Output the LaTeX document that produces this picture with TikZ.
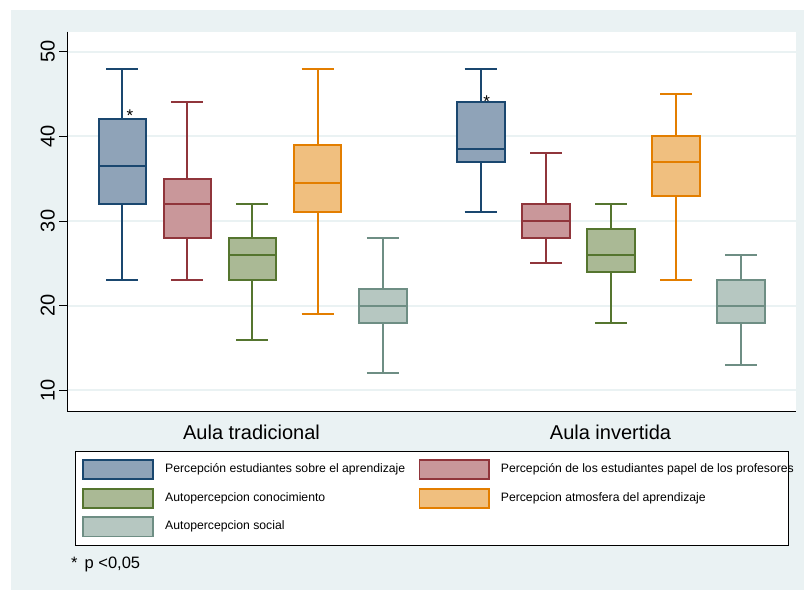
\documentclass[tikz,border=0pt]{standalone}
\usepackage{fontspec}
\setmainfont{Liberation Sans}
\definecolor{bgc}{HTML}{EAF2F3}
\definecolor{c1}{HTML}{1A476F}\definecolor{c1f}{HTML}{8FA3B8}
\definecolor{c2}{HTML}{90353B}\definecolor{c2f}{HTML}{C9979A}
\definecolor{c3}{HTML}{55752F}\definecolor{c3f}{HTML}{AAB995}
\definecolor{c4}{HTML}{E37E00}\definecolor{c4f}{HTML}{F0BF7F}
\definecolor{c5}{HTML}{6E8E84}\definecolor{c5f}{HTML}{B6C7C1}
\tikzset{
  bxline/.style={line width=2pt},
  gridln/.style={draw=bgc,line width=1.8pt},
  axisln/.style={draw=black,line width=1pt},
  ticklab/.style={font=\fontsize{20}{24}\selectfont,rotate=90,anchor=south,inner sep=0pt},
  grplab/.style={font=\fontsize{20}{24}\selectfont,inner sep=0pt},
  legtxt/.style={font=\fontsize{12.2}{14}\selectfont,anchor=west,inner sep=0pt},
  legkey/.style={line width=1.8pt},
  starlab/.style={font=\fontsize{17}{18}\selectfont,anchor=base,inner sep=0pt}
}
\newcommand\bxitem[7]{%
  \pgfmathsetmacro\bxA{390.3-(#2-10)*8.467}%
  \pgfmathsetmacro\bxB{390.3-(#3-10)*8.467}%
  \pgfmathsetmacro\bxC{390.3-(#4-10)*8.467}%
  \pgfmathsetmacro\bxD{390.3-(#5-10)*8.467}%
  \pgfmathsetmacro\bxE{390.3-(#6-10)*8.467}%
  \draw[bxline,draw=#7] (#1,\bxA) -- (#1,\bxB) (#1,\bxD) -- (#1,\bxE)
     (#1-16,\bxA) -- (#1+16,\bxA) (#1-16,\bxE) -- (#1+16,\bxE);
  \filldraw[bxline,draw=#7,fill=#7f] (#1-23.8,\bxB) rectangle (#1+23.8,\bxD);
  \draw[bxline,draw=#7] (#1-23.8,\bxC) -- (#1+23.8,\bxC);
}
\begin{document}
\begin{tikzpicture}[x=1pt,y=-1pt]
\useasboundingbox (0,0) rectangle (804,590);
\fill[bgc] (11,10) rectangle (804,590);
\fill[white] (67.7,31.7) rectangle (796,411);
% grid lines and ticks
\foreach \v in {10,20,30,40,50}{
  \pgfmathsetmacro\gy{390.3-(\v-10)*8.467}
  \draw[gridln] (67.7,\gy) -- (796,\gy);
  \draw[axisln,line width=0.9pt] (59.3,\gy) -- (67.7,\gy);
  \node[ticklab] (t\v) at (55,\gy) {\v};
}
% boxes group 1
\bxitem{122.3}{23}{32}{36.5}{42}{48}{c1}
\bxitem{187.3}{23}{28}{32}{35}{44}{c2}
\bxitem{252.3}{16}{23}{26}{28}{32}{c3}
\bxitem{317.5}{19}{31}{34.5}{39}{48}{c4}
\bxitem{382.8}{12}{18}{20}{22}{28}{c5}
% boxes group 2
\bxitem{480.7}{31}{37}{38.5}{44}{48}{c1}
\bxitem{546}{25}{28}{30}{32}{38}{c2}
\bxitem{611}{18}{24}{26}{29}{32}{c3}
\bxitem{676}{23}{33}{37}{40}{45}{c4}
\bxitem{741}{13}{18}{20}{23}{26}{c5}
% significance marks
\node[starlab] (s1) at (130,121) {*};
\node[starlab] (s2) at (486.7,107.5) {*};
% axes
\draw[axisln] (67.7,31.7) -- (67.7,411) -- (796,411);
% group labels
\node[grplab] (g1) at (251.5,432) {Aula tradicional};
\node[grplab] (g2) at (610.5,432) {Aula invertida};
% legend
\filldraw[fill=white,draw=black,line width=0.9pt] (75,451.7) rectangle (788.3,545);
\filldraw[legkey,draw=c1,fill=c1f] (83.3,460) rectangle (152.7,479.3);
\filldraw[legkey,draw=c3,fill=c3f] (83.3,488.6) rectangle (152.7,508);
\filldraw[legkey,draw=c5,fill=c5f] (83.3,517) rectangle (152.7,536.4);
\filldraw[legkey,draw=c2,fill=c2f] (419.5,460) rectangle (489,479.3);
\filldraw[legkey,draw=c4,fill=c4f] (419.5,488.6) rectangle (489,508);
\node[legtxt] (l1) at (165,469.7) {Percepción estudiantes sobre el aprendizaje};
\node[legtxt] (l3) at (165,498.3) {Autopercepcion conocimiento};
\node[legtxt] (l5) at (165,526.7) {Autopercepcion social};
\node[legtxt] (l2) at (500.7,469.7) {Percepción de los estudiantes papel de los profesores};
\node[legtxt] (l4) at (500.7,498.3) {Percepcion atmosfera del aprendizaje};
% note
\node[font=\fontsize{16.5}{18}\selectfont,anchor=west,inner sep=0pt] (note) at (71,564) {*\hspace{7pt}p <0,05};
\end{tikzpicture}
\end{document}
